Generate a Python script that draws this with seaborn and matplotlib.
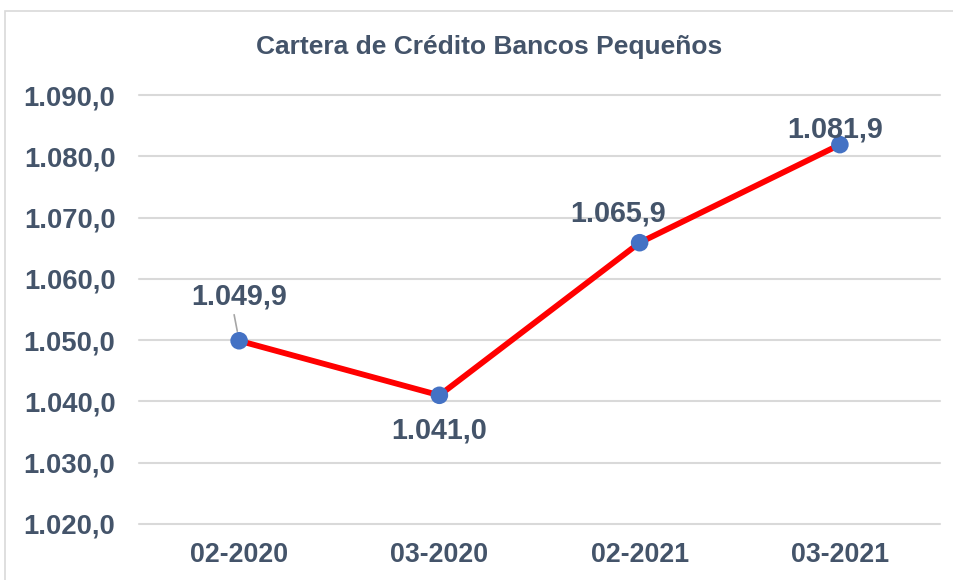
import matplotlib
matplotlib.use("Agg")
import matplotlib.pyplot as plt
import seaborn as sns
import pandas as pd
from matplotlib.patches import Rectangle
from matplotlib.ticker import FuncFormatter

# Data
periodos = ["02-2020", "03-2020", "02-2021", "03-2021"]
cartera = [1049.9, 1041.0, 1065.9, 1081.9]
y_ticks = [1020, 1030, 1040, 1050, 1060, 1070, 1080, 1090]
titulo = "Cartera de Crédito Bancos Pequeños"

df = pd.DataFrame({"periodo": periodos, "cartera": cartera})

sns.set_theme(style="white")
plt.rcParams["font.family"] = ["Liberation Sans", "DejaVu Sans"]

TEXT = "#44546A"
GRID = "#D9D9D9"


def fmt_es(v):
    return f"{v:,.1f}".replace(",", "X").replace(".", ",").replace("X", ".")


W, H = 954, 580
fig = plt.figure(figsize=(W / 100, H / 100), dpi=100)
ax = fig.add_axes([139 / W, (H - 524) / H, (940 - 139) / W, (524 - 95) / H])

# Chart frame
fig.patches.append(Rectangle((5 / W, -0.05), 1.2, 1.05 - 11 / H,
                             transform=fig.transFigure, fill=False,
                             edgecolor=GRID, linewidth=1.2))

sns.lineplot(data=df, x="periodo", y="cartera", sort=False, color="#FF0000",
             linewidth=4.2, ax=ax, zorder=3)
sns.scatterplot(data=df, x="periodo", y="cartera", color="#4472C4", s=160,
                edgecolor="none", ax=ax, zorder=4)

ax.set_xlim(-0.5, 3.5)
ax.set_ylim(1020, 1090)
ax.set_yticks(y_ticks)
ax.yaxis.set_major_formatter(FuncFormatter(lambda v, _: fmt_es(v)))
for y in y_ticks:
    ax.axhline(y, color=GRID, linewidth=1.5, zorder=1, clip_on=False)
for s in ax.spines.values():
    s.set_visible(False)
ax.set_xlabel("")
ax.set_ylabel("")
ax.tick_params(axis="y", length=0, pad=17, labelsize=19.8, labelcolor=TEXT)
ax.tick_params(axis="x", length=0, pad=13, labelsize=19.3, labelcolor=TEXT)
for lab in ax.get_xticklabels() + ax.get_yticklabels():
    lab.set_fontweight("bold")

fig.text(489 / W, 1 - 47 / H, titulo, ha="center", va="center",
         fontsize=19, fontweight="bold", color=TEXT)

# Value labels
offsets = [(0, 44), (0, -35), (-21, 29), (-5, 15)]
for i, (v, off) in enumerate(zip(cartera, offsets)):
    ax.annotate(fmt_es(v), (i, v), xytext=off, textcoords="offset pixels",
                ha="center", va="center", fontsize=20.7, fontweight="bold",
                color=TEXT, zorder=5)

# Leader line for the first label
ax.annotate("", (0, cartera[0]), xytext=(-5, 26), textcoords="offset pixels",
            arrowprops=dict(arrowstyle="-", color="#A6A6A6", lw=1.2,
                            shrinkA=0, shrinkB=7))

fig.savefig("out.png", dpi=100, facecolor="white")
